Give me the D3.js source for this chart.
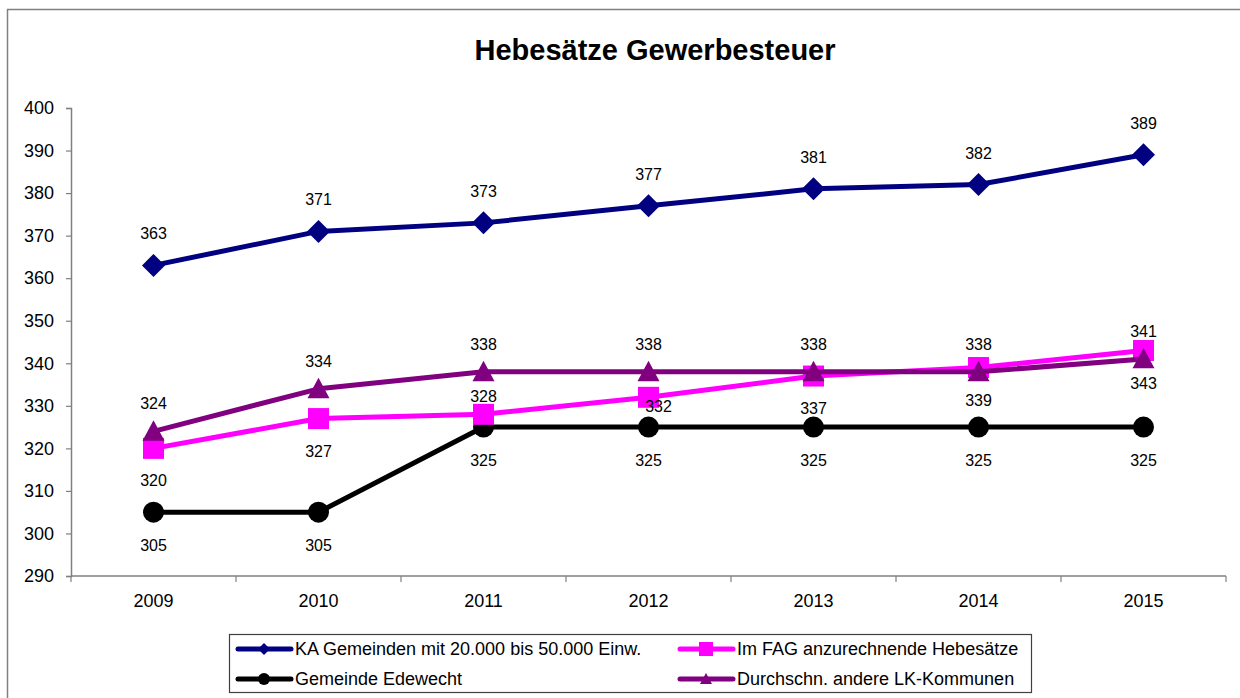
<!DOCTYPE html>
<html>
<head>
<meta charset="utf-8">
<script src="https://cdn.jsdelivr.net/npm/d3@7"></script>
<style>
    body { margin: 0; background: #fff; }
    svg { font-family: "Liberation Sans", Arial, sans-serif; }
</style>
</head>
<body>
<div id="chart"></div>
<script>
const years = ["2009", "2010", "2011", "2012", "2013", "2014", "2015"];
const kaValues = [363, 371, 373, 377, 381, 382, 389];
const fagValues = [320, 327, 328, 332, 337, 339, 343];
const edewechtValues = [305, 305, 325, 325, 325, 325, 325];
const lkValues = [324, 334, 338, 338, 338, 338, 341];
const yTicks = [290, 300, 310, 320, 330, 340, 350, 360, 370, 380, 390, 400];

const width = 1240,
    height = 698;

const margin = { top: 108, right: 14, bottom: 122, left: 71 };

const svg = d3.select("#chart").append("svg")
    .attr("width", width)
    .attr("height", height);

// outer chart frame
svg.append("rect")
    .attr("x", 7.5).attr("y", 9.5)
    .attr("width", width + 20).attr("height", height + 20)
    .style("fill", "none")
    .style("stroke", "#808080")
    .style("stroke-width", 1.5);

svg.append("text")
    .attr("x", 655)
    .attr("y", 60)
    .attr("text-anchor", "middle")
    .style("font-size", "29px")
    .style("font-weight", "bold")
    .text("Hebesätze Gewerbesteuer");

const x = d3.scaleBand()
    .domain(years)
    .range([margin.left, width - margin.right]);

const y = d3.scaleLinear()
    .domain([290, 400])
    .range([height - margin.bottom, margin.top]);

// y axis
const yAxis = svg.append("g")
    .attr("transform", "translate(" + margin.left + ",0)")
    .call(d3.axisLeft(y).tickValues(yTicks).tickSize(5).tickPadding(12));
yAxis.select(".domain").style("stroke", "#808080").style("stroke-width", 1.5);
yAxis.selectAll(".tick line").style("stroke", "#808080").style("stroke-width", 1.2);
yAxis.selectAll("text").style("font-size", "18px").style("fill", "#000")
    .attr("font-family", null);

// x axis: ticks at category boundaries
const xAxis = svg.append("g")
    .attr("transform", "translate(0," + y(290) + ")");
xAxis.append("line")
    .attr("x1", margin.left).attr("x2", width - margin.right)
    .style("stroke", "#808080").style("stroke-width", 1.5);
xAxis.selectAll(".xtick")
    .data(years.concat(["end"]))
    .enter().append("line")
    .attr("x1", function(d, i) { return margin.left + i * x.bandwidth(); })
    .attr("x2", function(d, i) { return margin.left + i * x.bandwidth(); })
    .attr("y1", 0).attr("y2", 6)
    .style("stroke", "#808080").style("stroke-width", 1.2);
xAxis.selectAll(".xlabel")
    .data(years)
    .enter().append("text")
    .attr("x", function(d) { return x(d) + x.bandwidth() / 2; })
    .attr("y", 31)
    .attr("text-anchor", "middle")
    .style("font-size", "18px")
    .text(function(d) { return d; });

const cx = function(i) { return x(years[i]) + x.bandwidth() / 2; };

const series = [
    { name: "KA Gemeinden mit 20.000 bis 50.000 Einw.", values: kaValues, color: "#000080", symbol: "diamond", labelDy: -26 },
    { name: "Im FAG anzurechnende Hebesätze", values: fagValues, color: "#ff00ff", symbol: "square", labelDy: 38 },
    { name: "Gemeinde Edewecht", values: edewechtValues, color: "#000000", symbol: "circle", labelDy: 39 },
    { name: "Durchschn. andere LK-Kommunen", values: lkValues, color: "#800080", symbol: "triangle", labelDy: -22 }
];

// manual label nudges for the magenta series (overlapping labels moved like in the original)
const fagLabelShift = [[0, 0], [0, 0], [0, -50], [10, -23], [0, 0], [0, 0], [0, 0]];

function drawMarker(g, type, color, px, py, s) {
    if (type === "diamond") {
        g.append("path")
            .attr("d", "M" + px + "," + (py - s) + "L" + (px + s) + "," + py + "L" + px + "," + (py + s) + "L" + (px - s) + "," + py + "Z")
            .style("fill", color);
    } else if (type === "square") {
        g.append("rect")
            .attr("x", px - s).attr("y", py - s)
            .attr("width", 2 * s).attr("height", 2 * s)
            .style("fill", color);
    } else if (type === "circle") {
        g.append("circle")
            .attr("cx", px).attr("cy", py).attr("r", s)
            .style("fill", color);
    } else {
        g.append("path")
            .attr("d", "M" + px + "," + (py - s) + "L" + (px + s) + "," + (py + s * 0.85) + "L" + (px - s) + "," + (py + s * 0.85) + "Z")
            .style("fill", color);
    }
}

const line = d3.line()
    .x(function(d, i) { return cx(i); })
    .y(function(d) { return y(d); });

const drawOrder = [0, 2, 1, 3];
drawOrder.forEach(function(k) {
    const s = series[k];
    const g = svg.append("g").attr("class", "series");
    g.append("path")
        .datum(s.values)
        .attr("d", line)
        .style("fill", "none")
        .style("stroke", s.color)
        .style("stroke-width", 5)
        .style("stroke-linejoin", "round");
    s.values.forEach(function(v, i) {
        drawMarker(g, s.symbol, s.color, cx(i), y(v), s.symbol === "diamond" ? 11.5 : (s.symbol === "triangle" ? 11 : 10.5));
    });
});

// data labels on top
series.forEach(function(s, k) {
    svg.append("g").selectAll("text")
        .data(s.values)
        .enter().append("text")
        .attr("x", function(d, i) { return cx(i) + (k === 1 ? fagLabelShift[i][0] : 0); })
        .attr("y", function(d, i) { return y(d) + s.labelDy + (k === 1 ? fagLabelShift[i][1] : 0); })
        .attr("text-anchor", "middle")
        .style("font-size", "16px")
        .text(function(d) { return d; });
});

// legend
const legend = svg.append("g").attr("class", "legendWrapper");
legend.append("rect")
    .attr("x", 229.5).attr("y", 634.5)
    .attr("width", 802).attr("height", 58)
    .style("fill", "#fff")
    .style("stroke", "#404040")
    .style("stroke-width", 1.2);

const legendPos = [[238, 649], [680, 649], [238, 679], [680, 679]];
series.forEach(function(s, k) {
    const lx = legendPos[k][0], ly = legendPos[k][1];
    legend.append("line")
        .attr("x1", lx).attr("x2", lx + 53)
        .attr("y1", ly).attr("y2", ly)
        .style("stroke", s.color)
        .style("stroke-width", 5)
        .style("stroke-linecap", "round");
    drawMarker(legend, s.symbol, s.color, lx + 26, ly, s.symbol === "square" ? 7 : 6);
    legend.append("text")
        .attr("x", lx + 57)
        .attr("y", ly + 6)
        .style("font-size", "18px")
        .text(s.name);
});
</script>
</body>
</html>
